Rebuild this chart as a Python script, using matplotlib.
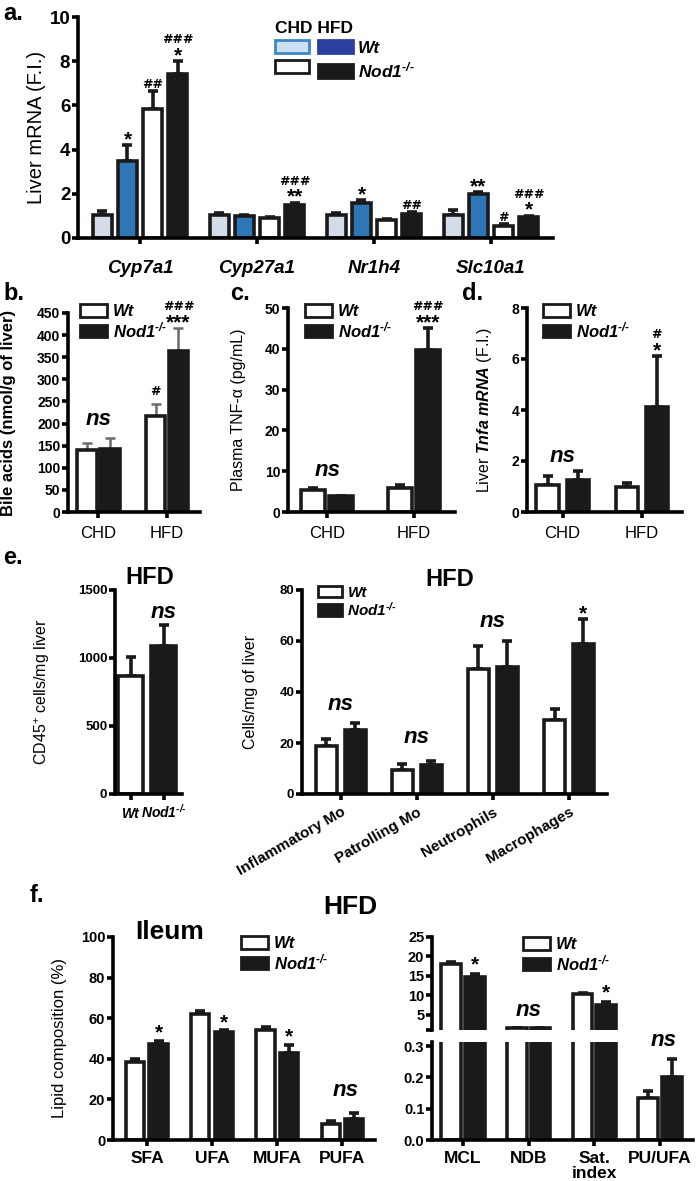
import numpy as np
import matplotlib
matplotlib.use('Agg')
import matplotlib.pyplot as plt
from matplotlib.patches import Patch

plt.rcParams['font.family'] = ['Liberation Sans', 'DejaVu Sans']
plt.rcParams['font.weight'] = 'bold'
plt.rcParams['mathtext.fontset'] = 'custom'
plt.rcParams['mathtext.default'] = 'regular'
plt.rcParams['mathtext.it'] = 'Liberation Sans:italic'

KO = 'Nod1$^{\u2010/\u2010}$'

# ---- data ----
# a. liver mRNA
a_genes = ['Cyp7a1', 'Cyp27a1', 'Nr1h4', 'Slc10a1']
a_chd_wt = [1.05, 1.05, 1.05, 1.05]
a_chd_wt_err = [0.15, 0.06, 0.08, 0.2]
a_hfd_wt = [3.5, 1.0, 1.6, 2.0]
a_hfd_wt_err = [0.7, 0.05, 0.1, 0.08]
a_chd_nod = [5.85, 0.9, 0.8, 0.55]
a_chd_nod_err = [0.8, 0.05, 0.06, 0.08]
a_hfd_nod = [7.4, 1.5, 1.1, 0.95]
a_hfd_nod_err = [0.6, 0.1, 0.06, 0.06]

diets = ['CHD', 'HFD']
# b. bile acids
b_wt = [140, 217]
b_wt_err = [17, 28]
b_nod = [143, 365]
b_nod_err = [25, 50]
# c. plasma TNF-a
c_wt = [5.3, 6.0]
c_wt_err = [0.5, 0.6]
c_nod = [3.8, 39.8]
c_nod_err = [0.2, 5.2]
# d. liver Tnfa mRNA
d_wt = [1.05, 1.0]
d_wt_err = [0.35, 0.12]
d_nod = [1.25, 4.1]
d_nod_err = [0.35, 2.0]
# e. CD45+ cells
e_groups = ['Wt', KO]
e_cd45 = [870, 1090]
e_cd45_err = [140, 150]
# e. cell types
cell_types = ['Inflammatory Mo', 'Patrolling Mo', 'Neutrophils', 'Macrophages']
cells_wt = [19, 9.5, 49, 29]
cells_wt_err = [2.5, 2.2, 9, 4.5]
cells_nod = [25, 11.5, 50, 59]
cells_nod_err = [3, 1.5, 10, 9.5]
# f. ileum lipids
lipids = ['SFA', 'UFA', 'MUFA', 'PUFA']
lip_wt = [38.5, 62, 54, 8]
lip_wt_err = [1.5, 1.5, 1.5, 1.5]
lip_nod = [47.5, 53, 43, 10.5]
lip_nod_err = [1.5, 1.2, 4, 3]
indices = ['MCL', 'NDB', 'Sat.\nindex', 'PU/UFA']
ind_wt = [18.0, 1.55, 10.3, 0.135]
ind_wt_err = [0.5, 0.1, 0.3, 0.022]
ind_nod = [14.8, 1.55, 7.5, 0.2]
ind_nod_err = [0.7, 0.1, 0.8, 0.06]

W, H = 696, 1181
fig = plt.figure(figsize=(W / 100, H / 100), dpi=100)


def box(l, t, r, b):
    return [l / W, 1 - b / H, (r - l) / W, (b - t) / H]


def style(ax, size):
    for s in ['top', 'right']:
        ax.spines[s].set_visible(False)
    for s in ['left', 'bottom']:
        ax.spines[s].set_linewidth(2.6)
    ax.tick_params(width=2.6, length=4, labelsize=size, pad=1.5)


def bars(ax, x, vals, errs, color, width, ecol='#1a1a1a', elw=2.6):
    ax.errorbar(x, vals, yerr=[np.zeros(len(vals)), errs], fmt='none',
                ecolor=ecol, elinewidth=elw, capsize=3.5, capthick=elw, zorder=1)
    ax.bar(x, vals, width, color=color, edgecolor='#1a1a1a', linewidth=2.6, zorder=2)


def mark(ax, x, y, star='', hsh='', ssize=15, hsize=9):
    off = 0
    if star:
        ax.annotate(star, (x, y), xytext=(0, -3), textcoords='offset points',
                    ha='center', va='bottom', fontsize=ssize, annotation_clip=False)
        off = ssize * 0.72
    if hsh:
        ax.annotate(hsh, (x, y), xytext=(0, off), textcoords='offset points',
                    ha='center', va='bottom', fontsize=hsize, family='DejaVu Sans',
                    annotation_clip=False)


def legend2(ax, x, y, size, hl=1.6):
    h = [Patch(facecolor='white', edgecolor='#1a1a1a', linewidth=2),
         Patch(facecolor='#1a1a1a', edgecolor='#1a1a1a', linewidth=2)]
    ax.legend(h, ['Wt', KO], loc='upper left', bbox_to_anchor=(x / W, 1 - y / H),
              bbox_transform=fig.transFigure, frameon=False, borderpad=0, handlelength=hl,
              handleheight=0.75, handletextpad=0.35, labelspacing=0.05,
              prop={'weight': 'bold', 'style': 'italic', 'size': size})


def ylab(ax, text, xpix, size, box_l, box_r, weight='normal'):
    ax.set_ylabel(text, fontsize=size, fontweight=weight)
    ax.yaxis.set_label_coords((xpix - box_l) / (box_r - box_l), 0.5)


def letter(x, y, s):
    fig.text(x / W, 1 - y / H, s, fontsize=17, ha='left', va='center')


# ---- a ----
ax = fig.add_axes(box(78, 17, 553, 238))
style(ax, 13.5)
g = np.arange(len(a_genes))
st = 0.214
w = 0.165
bars(ax, g - 1.5 * st, a_chd_wt, a_chd_wt_err, '#d3dce8', w)
bars(ax, g - 0.5 * st, a_hfd_wt, a_hfd_wt_err, '#2f76b7', w)
bars(ax, g + 0.5 * st, a_chd_nod, a_chd_nod_err, 'white', w)
bars(ax, g + 1.5 * st, a_hfd_nod, a_hfd_nod_err, '#1a1a1a', w)
ax.set_xlim(-0.53, 3.53)
ax.set_ylim(0, 10)
ax.set_yticks([0, 2, 4, 6, 8, 10])
ax.set_xticks(g)
ax.set_xticklabels(a_genes, fontstyle='italic', fontsize=13.5)
ax.tick_params(axis='x', pad=12)
ylab(ax, 'Liver mRNA (F.I.)', 46, 14.5, 78, 553)
tw = [a + e for a, e in zip(a_hfd_wt, a_hfd_wt_err)]
tc = [a + e for a, e in zip(a_chd_nod, a_chd_nod_err)]
tn = [a + e for a, e in zip(a_hfd_nod, a_hfd_nod_err)]
mark(ax, 0 - 0.5 * st, tw[0], '*')
mark(ax, 0 + 0.5 * st, tc[0], '', '##')
mark(ax, 0 + 1.5 * st, tn[0], '*', '###')
mark(ax, 1 + 1.5 * st, tn[1], '**', '###')
mark(ax, 2 - 0.5 * st, tw[2], '*')
mark(ax, 2 + 1.5 * st, tn[2], '', '##')
mark(ax, 3 - 0.5 * st, tw[3], '**')
mark(ax, 3 + 0.5 * st, tc[3], '', '#')
mark(ax, 3 + 1.5 * st, tn[3], '*', '###')
ha = [Patch(facecolor='#cfdff2', edgecolor='#3f86c8', linewidth=2),
      Patch(facecolor='white', edgecolor='#1a1a1a', linewidth=2),
      Patch(facecolor='#2c3f9e', edgecolor='#2c3f9e', linewidth=2),
      Patch(facecolor='#1a1a1a', edgecolor='#1a1a1a', linewidth=2)]
leg = ax.legend(ha, ['', '', 'Wt', KO], ncol=2, title='CHD HFD',
                loc='upper left', bbox_to_anchor=(266 / W, 1 - 12 / H),
                bbox_transform=fig.transFigure, frameon=False, borderpad=0,
                handlelength=2.0, handleheight=0.8, handletextpad=0.3,
                labelspacing=0.25, columnspacing=0.2,
                prop={'weight': 'bold', 'style': 'italic', 'size': 12.5},
                title_fontproperties={'weight': 'bold', 'size': 12.5})
leg._legend_box.align = 'left'
letter(3, 14, 'a.')

# ---- b ----
bb = (68, 313, 200, 512)
ax = fig.add_axes(box(*bb))
style(ax, 10)
x = np.arange(2)
bars(ax, x - 0.167, b_wt, b_wt_err, 'white', 0.29, ecol='#6b6b6b', elw=1.8)
bars(ax, x + 0.167, b_nod, b_nod_err, '#1a1a1a', 0.29, ecol='#6b6b6b', elw=1.8)
ax.set_xlim(-0.44, 1.48)
ax.set_ylim(0, 450)
ax.set_yticks(np.arange(0, 451, 50))
ax.set_xticks(x)
ax.set_xticklabels(diets, fontweight='normal', fontsize=12)
ax.tick_params(axis='x', pad=6)
ylab(ax, 'Bile acids (nmol/g of liver)', 16, 12, bb[0], bb[2], weight='bold')
ax.text(0, 185, 'ns', ha='center', va='bottom', fontsize=16, fontstyle='italic')
mark(ax, 1 - 0.167, b_wt[1] + b_wt_err[1] + 12, '', '#')
mark(ax, 1 + 0.167, b_nod[1] + b_nod_err[1], '***', '###')
legend2(ax, 72, 296, 12)
letter(3, 293, 'b.')

# ---- c ----
cb = (288, 308, 455, 512)
ax = fig.add_axes(box(*cb))
style(ax, 10)
bars(ax, x - 0.16, c_wt, c_wt_err, 'white', 0.28)
bars(ax, x + 0.16, c_nod, c_nod_err, '#1a1a1a', 0.28)
ax.set_xlim(-0.45, 1.47)
ax.set_ylim(0, 50)
ax.set_yticks(np.arange(0, 51, 10))
ax.set_xticks(x)
ax.set_xticklabels(diets, fontweight='normal', fontsize=12)
ax.tick_params(axis='x', pad=6)
ylab(ax, 'Plasma TNF-\u03b1 (pg/mL)', 246, 11.5, cb[0], cb[2])
ax.text(0, 7.5, 'ns', ha='center', va='bottom', fontsize=16, fontstyle='italic')
mark(ax, 1 + 0.16, c_nod[1] + c_nod_err[1], '***', '###')
legend2(ax, 297, 296, 12)
letter(230, 293, 'c.')

# ---- d ----
db = (527, 308, 682, 512)
ax = fig.add_axes(box(*db))
style(ax, 10)
bars(ax, x - 0.19, d_wt, d_wt_err, 'white', 0.28)
bars(ax, x + 0.19, d_nod, d_nod_err, '#1a1a1a', 0.28)
ax.set_xlim(-0.45, 1.51)
ax.set_ylim(0, 8)
ax.set_yticks(np.arange(0, 9, 2))
ax.set_xticks(x)
ax.set_xticklabels(diets, fontweight='normal', fontsize=12)
ax.tick_params(axis='x', pad=6)
ylab(ax, 'Liver $\\mathit{Tnfa\\ mRNA}$ (F.I.)', 494, 11.5, db[0], db[2])
ax.text(0, 1.75, 'ns', ha='center', va='bottom', fontsize=16, fontstyle='italic')
mark(ax, 1 + 0.19, d_nod[1] + d_nod_err[1], '*', '#')
legend2(ax, 535, 296, 12)
letter(462, 293, 'd.')

# ---- e left ----
eb = (115, 590, 182, 794)
ax = fig.add_axes(box(*eb))
style(ax, 9.5)
xe = np.arange(2)
bars(ax, xe[:1], e_cd45[:1], e_cd45_err[:1], 'white', 0.76)
bars(ax, xe[1:], e_cd45[1:], e_cd45_err[1:], '#1a1a1a', 0.76)
ax.set_xlim(-0.48, 1.55)
ax.set_ylim(0, 1500)
ax.set_yticks([0, 500, 1000, 1500])
ax.set_xticks(xe)
ax.set_xticklabels(e_groups, fontstyle='italic', fontsize=10)
for lab in ax.get_xticklabels():
    lab.set_verticalalignment('baseline')
ax.tick_params(axis='x', pad=13)
ylab(ax, 'CD45$^{+}$ cells/mg liver', 52, 11.5, eb[0], eb[2])
ax.text(1, 1260, 'ns', ha='center', va='bottom', fontsize=16, fontstyle='italic')
fig.text(150 / W, 1 - 578 / H, 'HFD', ha='center', va='center', fontsize=17)
letter(3, 557, 'e.')

# ---- e right ----
rb = (302, 590, 607, 794)
ax = fig.add_axes(box(*rb))
style(ax, 9.5)
xc = np.arange(len(cell_types))
bars(ax, xc - 0.19, cells_wt, cells_wt_err, 'white', 0.28)
bars(ax, xc + 0.19, cells_nod, cells_nod_err, '#1a1a1a', 0.28)
ax.set_xlim(-0.51, 3.5)
ax.set_ylim(0, 80)
ax.set_yticks(np.arange(0, 81, 20))
ax.set_xticks(xc)
ax.set_xticklabels(cell_types, rotation=30, ha='right', rotation_mode='anchor', fontsize=11)
ax.tick_params(axis='x', pad=4)
ylab(ax, 'Cells/mg of liver', 258, 11.5, rb[0], rb[2])
ax.text(0, 31, 'ns', ha='center', va='bottom', fontsize=16, fontstyle='italic')
ax.text(1, 18, 'ns', ha='center', va='bottom', fontsize=16, fontstyle='italic')
ax.text(2, 63.5, 'ns', ha='center', va='bottom', fontsize=16, fontstyle='italic')
mark(ax, 3 + 0.19, cells_nod[3] + cells_nod_err[3], '*')
legend2(ax, 310, 578, 11)
fig.text(450 / W, 1 - 580 / H, 'HFD', ha='center', va='center', fontsize=17)

# ---- f left ----
fb = (113, 937, 375, 1140)
ax = fig.add_axes(box(*fb))
style(ax, 10.5)
xl = np.arange(len(lipids))
bars(ax, xl - 0.18, lip_wt, lip_wt_err, 'white', 0.28)
bars(ax, xl + 0.18, lip_nod, lip_nod_err, '#1a1a1a', 0.28)
ax.set_xlim(-0.52, 3.5)
ax.set_ylim(0, 100)
ax.set_yticks(np.arange(0, 101, 20))
ax.set_xticks(xl)
ax.set_xticklabels(lipids, fontsize=12.5)
ax.tick_params(axis='x', pad=4)
ylab(ax, 'Lipid composition (%)', 67, 12, fb[0], fb[2])
for i in range(3):
    mark(ax, i + 0.18, lip_nod[i] + lip_nod_err[i] + 1, '*')
ax.text(3 + 0.05, 19, 'ns', ha='center', va='bottom', fontsize=16, fontstyle='italic')
fig.text(170 / W, 1 - 932 / H, 'Ileum', ha='center', va='center', fontsize=19)
legend2(ax, 233, 928, 12)
fig.text(350 / W, 1 - 907 / H, 'HFD', ha='center', va='center', fontsize=19)
letter(30, 895, 'f.')

# ---- f right (broken axis) ----
xi = np.arange(len(indices))
top = fig.add_axes(box(432, 937, 693, 1030))
bot = fig.add_axes(box(432, 1042, 693, 1140))
for a_ in (top, bot):
    style(a_, 10.5)
    bars(a_, xi - 0.18, ind_wt, ind_wt_err, 'white', 0.30)
    bars(a_, xi + 0.18, ind_nod, ind_nod_err, '#1a1a1a', 0.30)
    a_.set_xlim(-0.47, 3.5)
top.set_ylim(1.1, 25)
top.set_yticks([1.1, 5, 10, 15, 20, 25])
top.set_yticklabels(['', '5', '10', '15', '20', '25'])
top.spines['bottom'].set_visible(False)
top.tick_params(axis='x', bottom=False, labelbottom=False)
bot.set_ylim(0, 0.313)
bot.set_yticks([0, 0.1, 0.2, 0.3])
bot.set_yticklabels(['0.0', '0.1', '0.2', '0.3'])
bot.set_xticks(xi)
bot.set_xticklabels(indices, fontsize=12.5, linespacing=0.95)
bot.tick_params(axis='x', pad=4)
mark(top, 0 + 0.18, ind_nod[0] + ind_nod_err[0] + 1, '*')
mark(top, 2 + 0.18, ind_nod[2] + ind_nod_err[2] + 1, '*')
top.text(1, 3.5, 'ns', ha='center', va='bottom', fontsize=16, fontstyle='italic')
bot.text(3 + 0.05, 0.285, 'ns', ha='center', va='bottom', fontsize=16, fontstyle='italic')
legend2(top, 515, 929, 12)

fig.savefig('out.png', dpi=100)
